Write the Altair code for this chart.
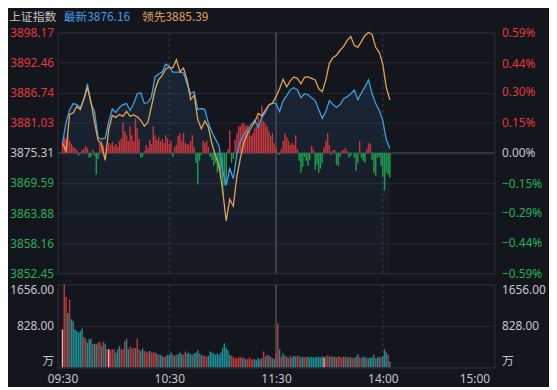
import altair as alt
import pandas as pd

# ---------------- data ----------------
BASE = 3875.31
P_MIN, P_MAX = 3852.45, 3898.17

title_parts = ["上证指数", "最新3876.16", "领先3885.39"]
price_ticks = [3852.45, 3858.16, 3863.88, 3869.59, 3875.31, 3881.03, 3886.74, 3892.46, 3898.17]
pct_ticks = [-0.59, -0.44, -0.29, -0.15, 0.0, 0.15, 0.30, 0.44, 0.59]
vol_ticks = [0, 828, 1656]
time_ticks = [0, 60, 120, 180, 240]
time_labels = ["09:30", "10:30", "11:30", "14:00", "15:00"]
dashed_minutes = [60, 180]
solid_minutes = [120]

line_minutes = list(range(0, 185, 2))
latest = [
    3877.18, 3881.12, 3883.46, 3884.68, 3884.49, 3883.93, 3885.43, 3888.43, 3884.68, 3883.18,
    3878.18, 3877.93, 3878.12, 3881.31, 3883.65, 3882.99, 3883.93, 3884.49, 3884.68, 3883.37,
    3884.68, 3886.55, 3886.74, 3884.68, 3884.87, 3885.99, 3889.74, 3890.30, 3890.67, 3892.17,
    3891.80, 3890.67, 3890.67, 3890.67, 3890.49, 3888.43, 3886.55, 3886.93, 3883.55, 3883.74,
    3883.55, 3880.93, 3879.24, 3877.93, 3876.62, 3871.94, 3869.13, 3872.31, 3870.44, 3875.12,
    3877.56, 3878.87, 3879.71, 3880.74, 3881.49, 3880.18, 3882.06, 3882.99, 3884.40, 3884.77,
    3884.68, 3883.18, 3885.24, 3886.18, 3887.30, 3887.68, 3887.30, 3885.80, 3886.55, 3886.36,
    3885.80, 3885.24, 3883.55, 3881.87, 3883.18, 3885.24, 3884.49, 3883.93, 3884.49, 3885.61,
    3885.99, 3886.55, 3887.21, 3885.43, 3886.74, 3887.86, 3889.17, 3886.55, 3884.68, 3883.37,
    3881.49, 3877.75, 3876.16,
]
leading = [
    3877.18, 3875.68, 3882.62, 3882.90, 3884.12, 3883.55, 3885.61, 3887.68, 3885.05, 3881.12,
    3877.75, 3876.81, 3873.90, 3879.81, 3882.43, 3882.06, 3882.62, 3882.24, 3883.18, 3882.24,
    3882.52, 3882.15, 3881.49, 3880.37, 3881.12, 3884.12, 3887.30, 3889.17, 3890.02, 3891.24,
    3891.61, 3891.42, 3893.02, 3890.67, 3891.42, 3889.17, 3885.43, 3886.27, 3881.68, 3879.90,
    3881.40, 3880.18, 3877.00, 3874.75, 3872.87, 3868.19, 3862.38, 3866.50, 3865.19, 3870.81,
    3874.37, 3877.37, 3879.06, 3880.09, 3881.12, 3882.80, 3882.34, 3883.46, 3884.43, 3884.77,
    3885.99, 3887.49, 3889.27, 3887.86, 3888.99, 3889.74, 3889.46, 3888.43, 3889.64, 3889.74,
    3889.46, 3889.17, 3887.49, 3886.93, 3889.17, 3892.36, 3893.39, 3893.86, 3894.80, 3895.54,
    3896.67, 3897.42, 3895.73, 3895.36, 3896.48, 3897.61, 3898.17, 3897.79, 3895.36, 3894.42,
    3892.17, 3887.68, 3885.39,
]

bar_minutes = list(range(0, 185))
breadth = [
    2.06, 3.00, 2.62, 3.19, 2.25, 1.69, 1.12, 0.94, 0.56, -0.56,
    0.19, 0.56, 0.75, 1.31, 0.94, -0.94, -0.75, 0.56, -0.56, -4.12,
    -1.12, 1.69, 2.25, 1.50, -0.94, 0.94, 1.87, 1.50, 2.06, 1.31,
    1.69, 1.12, 2.25, 2.62, 5.81, 4.12, 3.37, 2.25, 5.06, 3.37,
    2.25, 6.56, 4.69, 2.62, -0.94, -0.75, 0.37, 1.50, 0.94, 2.44,
    1.69, 5.06, 3.37, 2.44, 3.00, 2.25, 2.62, 1.87, 3.37, 2.81,
    1.69, 2.25, -0.75, 1.12, 1.50, 3.19, 3.75, 2.25, 3.75, 1.87,
    1.69, 1.50, 2.25, 3.37, 1.12, -1.87, -6.00, -1.50, -0.37, 2.25,
    1.87, 2.25, 1.12, -0.75, -1.31, -2.44, -1.87, -3.75, -3.19, -4.69,
    -7.87, -6.18, -5.62, 0.75, 4.31, -1.87, -1.12, 2.44, 3.75, 5.06,
    5.06, 5.62, 5.62, 5.06, 5.25, 4.31, 3.19, 3.75, 4.69, 5.06,
    6.93, 5.62, 9.00, 6.00, 5.62, 5.06, 4.12, 3.19, 3.75, 1.87,
    1.12, -0.19, -0.37, 0.75, 2.25, 3.75, 3.00, 2.25, 1.50, 1.87,
    1.50, 3.37, 0.75, -1.50, -3.75, -2.62, -0.75, -1.50, -2.44, -1.31,
    1.31, 0.56, -3.19, -2.25, -3.75, -3.00, -1.87, 1.12, 2.25, 3.75,
    1.50, -0.37, 0.56, 0.56, -2.25, -2.44, -0.75, 0.37, 0.56, 0.94,
    0.37, -0.94, -0.56, 0.00, -0.94, -3.37, -1.87, 2.25, -0.94, -1.50,
    -1.87, 0.75, 1.87, 1.69, -1.31, -3.75, -4.31, -0.94, -0.75, -2.44,
    -4.50, -7.12, -3.75, -4.12, -4.69,
]
volume = [
    756, 1656, 1400, 1084, 1347, 953, 920, 756, 723, 690,
    723, 775, 605, 578, 493, 559, 572, 460, 473, 460,
    493, 513, 427, 513, 473, 361, 361, 342, 361, 361,
    296, 361, 427, 361, 361, 526, 572, 361, 414, 381,
    381, 381, 578, 361, 329, 375, 329, 315, 296, 329,
    296, 296, 296, 276, 250, 250, 230, 210, 217, 250,
    250, 296, 250, 230, 250, 263, 296, 263, 250, 315,
    276, 296, 263, 250, 276, 296, 342, 276, 250, 230,
    230, 210, 230, 315, 296, 276, 250, 276, 250, 296,
    394, 480, 394, 342, 250, 230, 210, 184, 184, 197,
    210, 184, 197, 164, 164, 197, 164, 164, 164, 145,
    184, 164, 184, 315, 210, 250, 230, 210, 184, 164,
    276, 874, 361, 210, 276, 230, 210, 184, 230, 197,
    230, 210, 230, 230, 197, 210, 197, 210, 210, 197,
    210, 197, 197, 210, 210, 197, 223, 197, 223, 237,
    210, 223, 210, 210, 197, 223, 210, 197, 210, 223,
    197, 210, 197, 184, 197, 210, 263, 197, 184, 210,
    197, 197, 184, 197, 197, 250, 184, 197, 210, 197,
    223, 361, 296, 250, 118,
]
vol_dir = list(
    "wrrgrggggg" "ggrrgggrgg" "rrgrgrwrrr" "gggrrrggrr" "rgrrggrrrg"
    "rrrgrggrrg" "ggrgrgggrr" "gggrgggrgr" "rrgggggggg" "gggggrrrrr"
    "rgrgrrrrgg" "ggrrgrgrgg" "rrgrgrgrrg" "ggrrggrrgg" "gggggggwrr"
    "grgrgrrrgr" "grgrrggrrg" "grggggrggr" "gggrg"
)

# ---------------- style ----------------
BG = "#14161d"
GRID = "#252933"
BORDER = "#2c303b"
VLINE = "#393e4b"
RED_TXT = "#e5383b"
GREEN_TXT = "#1fb356"
GREY_TXT = "#c5c7cc"
BLUE = "#3f9fe6"
ORANGE = "#e3a352"
RED_BAR = "#c2363c"
GREEN_BAR = "#1c9a4c"
VOL_RED = "#b9373b"
VOL_TEAL = "#1b8e93"
VOL_PINK = "#e7b3b3"
FONT = "Noto Sans, Noto Sans CJK SC"
CJK = "Noto Sans CJK SC"

W, H_TOP, H_VOL = 441, 243, 84

lines_df = pd.DataFrame({"minute": line_minutes, "latest": latest, "leading": leading})
bars_df = pd.DataFrame({"minute": bar_minutes, "d": breadth, "vol": volume, "dir": vol_dir})

xscale = alt.Scale(domain=[0, 240], nice=False, zero=False)
x_noaxis = alt.X("minute:Q", scale=xscale, axis=None)
price_scale = alt.Scale(domain=[P_MIN, P_MAX], nice=False, zero=False)

price_axis = alt.Axis(
    values=price_ticks, format=".2f", title=None, grid=True, gridColor=GRID,
    domain=False, ticks=False, labelPadding=4,
    labelColor={"expr": f"datum.value > {BASE + 0.001} ? '{RED_TXT}' : (datum.value < {BASE - 0.001} ? '{GREEN_TXT}' : '{GREY_TXT}')"},
)
pct_axis = alt.Axis(
    values=pct_ticks, orient="right", title=None, grid=False, domain=False, ticks=False,
    labelPadding=7, labelExpr="format(datum.value, '.2f') + '%'",
    labelColor={"expr": f"datum.value > 0.001 ? '{RED_TXT}' : (datum.value < -0.001 ? '{GREEN_TXT}' : '{GREY_TXT}')"},
)

def py(field):
    return alt.Y(field, scale=price_scale, axis=price_axis)

gradient = alt.Gradient(
    gradient="linear",
    stops=[alt.GradientStop(color="rgba(64,130,200,0.14)", offset=0),
           alt.GradientStop(color="rgba(64,130,200,0.03)", offset=1)],
    x1=1, x2=1, y1=0, y2=1,
)

area = alt.Chart(lines_df).mark_area(color=gradient).encode(
    x=x_noaxis, y=py("latest:Q"), y2=alt.datum(P_MIN)
)
base_rule = alt.Chart(pd.DataFrame({"p": [BASE]})).mark_rule(color="#2f3440", strokeWidth=2).encode(
    y=py("p:Q")
)
dashed_top = alt.Chart(pd.DataFrame({"minute": dashed_minutes})).mark_rule(
    color=VLINE, strokeDash=[3, 3], strokeWidth=1).encode(x=x_noaxis)
solid_top = alt.Chart(pd.DataFrame({"minute": solid_minutes})).mark_rule(
    color="#3d4250", strokeWidth=2).encode(x=x_noaxis)
bars = alt.Chart(bars_df).transform_calculate(top=f"{BASE} + datum.d").mark_bar(size=1.5).encode(
    x=x_noaxis,
    y=py("top:Q"),
    y2=alt.datum(BASE),
    color=alt.when(alt.datum.d > 0).then(alt.value(RED_BAR)).otherwise(alt.value(GREEN_BAR)),
)
blue_line = alt.Chart(lines_df).mark_line(color=BLUE, strokeWidth=1.3).encode(
    x=x_noaxis, y=py("latest:Q"))
orange_line = alt.Chart(lines_df).mark_line(color=ORANGE, strokeWidth=1.3).encode(
    x=x_noaxis, y=py("leading:Q"))

def title_text(txt, xpos, col):
    return alt.Chart(pd.DataFrame({"t": [txt]})).mark_text(
        align="left", baseline="middle", font=CJK, fontSize=12, color=col
    ).encode(x=alt.value(xpos), y=alt.value(-16), text="t:N")

t1 = title_text(title_parts[0], -49, "#c8c5bf")
t2 = title_text(title_parts[1], 6, BLUE)
t3 = title_text(title_parts[2], 85, ORANGE)

pct_layer = alt.Chart(pd.DataFrame({"pct": pct_ticks})).mark_point(opacity=0).encode(
    y=alt.Y("pct:Q", scale=alt.Scale(domain=[-0.59, 0.59], nice=False, zero=False), axis=pct_axis)
)

top = alt.layer(
    alt.layer(area, base_rule, dashed_top, solid_top, bars, blue_line, orange_line, t1, t2, t3),
    pct_layer,
).resolve_scale(y="independent").properties(width=W, height=H_TOP)

# ---------------- volume panel ----------------
label_lookup = "[" + ",".join(f"'{s}'" for s in time_labels) + "]"
tick_lookup = "[" + ",".join(str(v) for v in time_ticks) + "]"
time_axis = alt.Axis(
    values=time_ticks, title=None, grid=False, domain=False, ticks=False,
    labelPadding=6, labelColor=GREY_TXT,
    labelExpr=f"{label_lookup}[indexof({tick_lookup}, datum.value)]",
    labelAlign={"expr": "datum.value == 240 ? 'right' : 'center'"},
)
x_time = alt.X("minute:Q", scale=xscale, axis=time_axis)
vol_scale = alt.Scale(domain=[0, 1656], nice=False, zero=True)
vol_label_expr = "datum.value == 0 ? '万' : format(datum.value, '.2f')"
vol_axis = alt.Axis(
    values=vol_ticks, title=None, grid=True, gridColor=GRID, domain=False, ticks=False,
    labelPadding=4, labelFlush=True, labelColor=GREY_TXT, labelExpr=vol_label_expr,
)
vol_axis_r = alt.Axis(
    values=vol_ticks, orient="right", title=None, grid=False, domain=False, ticks=False,
    labelPadding=7, labelFlush=True, labelColor=GREY_TXT, labelExpr=vol_label_expr,
)

vol_bars = alt.Chart(bars_df).mark_bar(size=1.5, clip=True).encode(
    x=x_time,
    y=alt.Y("vol:Q", scale=vol_scale, axis=vol_axis),
    color=alt.Color("dir:N", scale=alt.Scale(domain=["r", "g", "w"], range=[VOL_RED, VOL_TEAL, VOL_PINK]), legend=None),
)
dashed_vol = alt.Chart(pd.DataFrame({"minute": dashed_minutes})).mark_rule(
    color=VLINE, strokeDash=[3, 3], strokeWidth=1).encode(x=x_time)
solid_vol = alt.Chart(pd.DataFrame({"minute": solid_minutes})).mark_rule(
    color="#3d4250", strokeWidth=2).encode(x=x_time)
vol_right = alt.Chart(pd.DataFrame({"v": vol_ticks})).mark_point(opacity=0).encode(
    y=alt.Y("v:Q", scale=vol_scale, axis=vol_axis_r)
)

bottom = alt.layer(
    alt.layer(dashed_vol, solid_vol, vol_bars),
    vol_right,
).resolve_scale(y="independent").properties(width=W, height=H_VOL)

chart = alt.vconcat(top, bottom, spacing=11, bounds="flush").properties(
    background=BG,
    padding={"left": 0, "top": 0, "right": 3, "bottom": 0},
).configure_view(stroke=BORDER, strokeWidth=1).configure_axis(
    labelFont=FONT, labelFontSize=12
)

chart.save("out.html", embed_options={"renderer": "svg", "actions": False})
